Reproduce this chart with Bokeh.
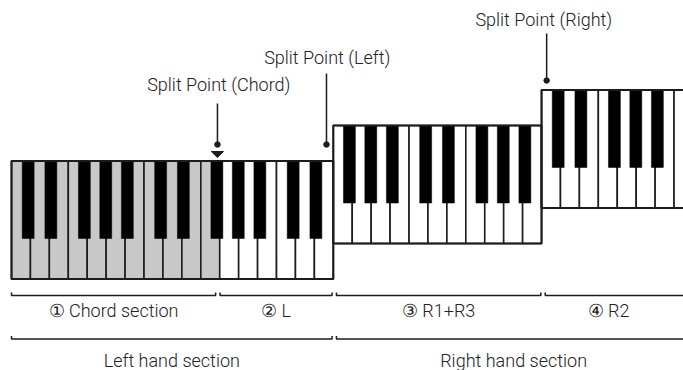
import numpy as np
from bokeh.plotting import figure
from bokeh.models import Range1d
from bokeh.core.properties import value
from bokeh.embed import file_html
from bokeh.resources import INLINE

# ---------------- data ----------------
# keyboard blocks (white keys per block, first note of block: 0=C ... 6=B)
block_white_keys = [17, 11, 8]
block_first_note = [0, 3, 0]
# split points, in white-key units from the lowest key
split_names = ["Split Point (Chord)", "Split Point (Left)", "Split Point (Right)"]
split_keys = [10.88, 16.64, 28.27]
# section brackets (boundaries in white-key units)
section_labels = ["\u2460 Chord section", "\u2461 L", "\u2462 R1+R3", "\u2463 R2"]
section_bounds = [0.0, 10.9, 17.05, 28.08, 35.0]
hand_labels = ["Left hand section", "Right hand section"]
hand_bounds = [0.0, 17.05, 36.0]
chord_gray_until = 10.88  # white keys left of the chord split are shaded

# ---------------- layout (pixels of the reference) ----------------
W, H = 683, 370
KEY = 18.93
X0 = -11 / KEY
X1 = (W - 11) / KEY
base_top = 160.5
step = 35.5
key_len = 118.0
black_len = 77.5
black_w = 0.63
black_off = {0: -0.12, 1: 0.08, 3: -0.15, 4: -0.02, 5: 0.12}
INK = "#1c1c1c"
TXT = "#222222"
FONT = value("'Roboto Light', 'Liberation Sans', sans-serif")
FS = "18px"

p = figure(width=W, height=H, x_range=Range1d(X0, X1), y_range=Range1d(H, 0),
           x_axis_type=None, y_axis_type=None, toolbar_location=None,
           output_backend="svg", min_border=0, outline_line_color=None,
           background_fill_color="white", border_fill_color="white")
p.grid.visible = False

wl, wr, wt, wb, wc = [], [], [], [], []
bl, br, bt, bb = [], [], [], []
ol, orr, ot, ob = [], [], [], []
start = 0
for b, (n, fn) in enumerate(zip(block_white_keys, block_first_note)):
    top = base_top - b * step
    bot = top + key_len
    ol.append(start); orr.append(start + n); ot.append(top); ob.append(bot)
    for k in range(n):
        i = start + k
        wl.append(i); wr.append(i + 1); wt.append(top); wb.append(bot)
        wc.append("#c8c8c8" if i + 1 < chord_gray_until + 0.5 else "white")
        note = (fn + k) % 7
        if note in black_off and k < n - 1:
            c = i + 1 + black_off[note]
            bl.append(c - black_w / 2); br.append(c + black_w / 2)
            bt.append(top); bb.append(top + black_len)
    start += n

p.quad(left=wl, right=wr, top=wt, bottom=wb, fill_color=wc, line_color=INK, line_width=1.6)
p.quad(left=bl, right=br, top=bt, bottom=bb, fill_color="black", line_color="black", line_width=0.5)
p.quad(left=ol, right=orr, top=ot, bottom=ob, fill_color=None, line_color=INK, line_width=2)

# split point markers
label_y = [84, 56.5, 18.5]
line_top = [103, 73, 33]
dot_y = [144, 144, 80]
text_x = [10.95, 16.68, 28.12]
p.text(x=text_x, y=label_y, text=split_names, text_font=FONT, text_font_size=FS,
       text_color=TXT, text_align="center", text_baseline="alphabetic")
p.segment(x0=split_keys, y0=line_top, x1=split_keys, y1=dot_y, line_color=INK, line_width=1.5)
p.scatter(x=split_keys, y=dot_y, size=5.5, color=INK)
sx = split_keys[0]
p.patch(x=[sx - 0.32, sx + 0.32, sx], y=[151, 151, 157], fill_color=INK, line_color=INK, line_width=1)

# brackets
def brackets(bounds, y, gap=0.115, tick=3.0):
    xs, ys = [], []
    last = len(bounds) - 2
    for j, (a, b) in enumerate(zip(bounds[:-1], bounds[1:])):
        a2 = a + (gap if a > 0 else 0)
        if j == last:   # runs off the right edge of the picture
            xs.append([a2, a2, X1 + 1]); ys.append([y - tick, y, y])
        else:
            b2 = b - gap
            xs.append([a2, a2, b2, b2]); ys.append([y - tick, y, y, y - tick])
    return xs, ys

xs, ys = brackets(section_bounds, 295)
p.multi_line(xs=xs, ys=ys, line_color=INK, line_width=1.5)
xs2, ys2 = brackets(hand_bounds, 338.5)
p.multi_line(xs=xs2, ys=ys2, line_color=INK, line_width=1.5)

def mids(bounds, gap=0.115):
    out = []
    for a, b in zip(bounds[:-1], bounds[1:]):
        a2 = a + (gap if a > 0 else 0)
        out.append((a2 + b - gap) / 2)
    return out

p.text(x=mids(section_bounds), y=[309.5] * len(section_labels), text=section_labels,
       text_font=FONT, text_font_size=FS, text_color=TXT, text_align="center",
       text_baseline="alphabetic")
p.text(x=mids(hand_bounds), y=[360] * len(hand_labels), text=hand_labels,
       text_font=FONT, text_font_size=FS, text_color=TXT, text_align="center",
       text_baseline="alphabetic")

open("out.html", "w").write(file_html(p, INLINE))
